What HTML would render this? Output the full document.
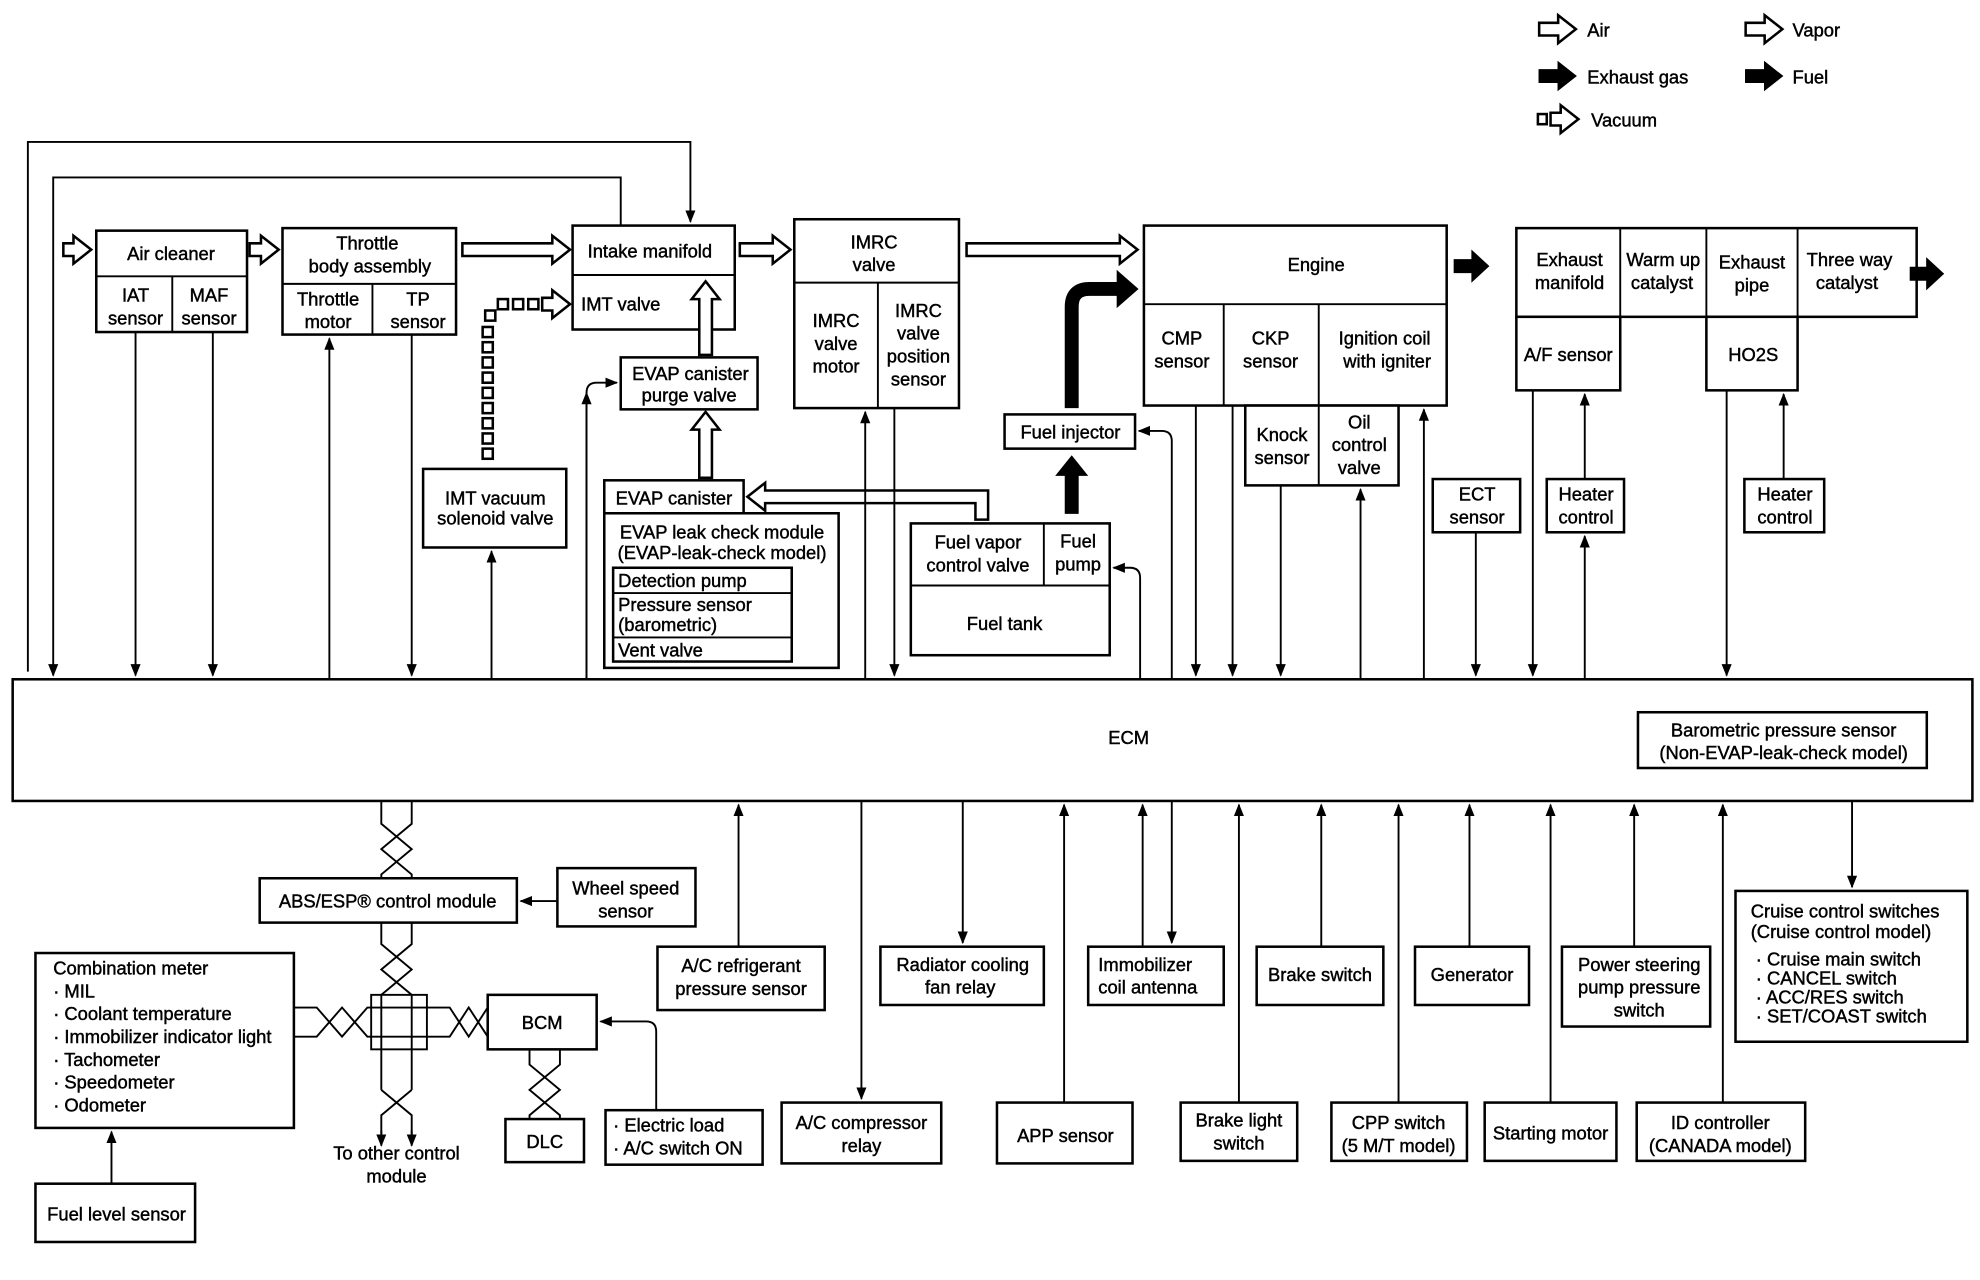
<!DOCTYPE html>
<html><head><meta charset="utf-8"><style>
html,body{margin:0;padding:0;background:#fff}
svg{display:block}
text{font-family:"Liberation Sans",sans-serif;font-size:14.5px;fill:#000;stroke:#000;stroke-width:0.35;text-anchor:middle}
.b{fill:#fff;stroke:#000;stroke-width:2}
.l{fill:none;stroke:#000;stroke-width:1.5}
.h{fill:#fff;stroke:#000;stroke-width:2;stroke-linejoin:miter}
.s{fill:#000;stroke:#000;stroke-width:1}
.st{text-anchor:start}
</style></head><body>
<svg width="1980" height="1280" viewBox="0 0 1563 1010" preserveAspectRatio="none" xmlns="http://www.w3.org/2000/svg">
<defs>
<marker id="a" markerWidth="10" markerHeight="10" refX="9" refY="4" orient="auto" markerUnits="userSpaceOnUse"><path d="M0,0 L10,4 L0,8 z" fill="#000"/></marker>
</defs>

<!-- Legend -->
<polygon class="h" points="1215,18 1230,18 1230,12 1244,23 1230,34 1230,28 1215,28"/>
<text class="st" x="1253" y="29">Air</text>
<polygon class="h" points="1378,18 1393,18 1393,12 1407,23 1393,34 1393,28 1378,28"/>
<text class="st" x="1415" y="29">Vapor</text>
<polygon class="s" points="1215,55 1230,55 1230,49 1244,60 1230,71 1230,65 1215,65"/>
<text class="st" x="1253" y="66">Exhaust gas</text>
<polygon class="s" points="1378,55 1393,55 1393,49 1407,60 1393,71 1393,65 1378,65"/>
<text class="st" x="1415" y="66">Fuel</text>
<rect class="h" x="1214" y="90" width="7" height="8"/>
<polygon class="h" points="1224,89 1232,89 1232,83 1246,94 1232,105 1232,99 1224,99"/>
<text class="st" x="1256" y="100">Vacuum</text>

<!-- top loops -->
<polyline class="l" points="22,530 22,112 545,112 545,175" marker-end="url(#a)"/>
<polyline class="l" points="490,178 490,140 42,140 42,533" marker-end="url(#a)"/>

<!-- Air cleaner -->
<rect class="b" x="76" y="182" width="119" height="80"/>
<line class="l" x1="76" y1="218" x2="195" y2="218"/><line class="l" x1="136" y1="218" x2="136" y2="262"/>
<text x="135" y="205">Air cleaner</text>
<text x="107" y="238">IAT</text><text x="107" y="256">sensor</text>
<text x="165" y="238">MAF</text><text x="165" y="256">sensor</text>

<!-- Throttle -->
<rect class="b" x="223" y="180" width="137" height="84"/>
<line class="l" x1="223" y1="224" x2="360" y2="224"/><line class="l" x1="294" y1="224" x2="294" y2="264"/>
<text x="290" y="197">Throttle</text><text x="292" y="215">body assembly</text>
<text x="259" y="241">Throttle</text><text x="259" y="259">motor</text>
<text x="330" y="241">TP</text><text x="330" y="259">sensor</text>

<!-- Intake manifold -->
<rect class="b" x="452" y="178" width="128" height="82"/>
<line class="l" x1="452" y1="217" x2="580" y2="217"/>
<text x="513" y="203">Intake manifold</text>
<text x="490" y="245">IMT valve</text>

<!-- IMRC -->
<rect class="b" x="627" y="173" width="130" height="149"/>
<line class="l" x1="627" y1="223" x2="757" y2="223"/><line class="l" x1="693" y1="223" x2="693" y2="322"/>
<text x="690" y="196">IMRC</text><text x="690" y="214">valve</text>
<text x="660" y="258">IMRC</text><text x="660" y="276">valve</text><text x="660" y="294">motor</text>
<text x="725" y="250">IMRC</text><text x="725" y="268">valve</text><text x="725" y="286">position</text><text x="725" y="304">sensor</text>

<!-- Engine -->
<rect class="b" x="903" y="178" width="239" height="142"/>
<line class="l" x1="903" y1="240" x2="1142" y2="240"/>
<line class="l" x1="966" y1="240" x2="966" y2="320"/><line class="l" x1="1041" y1="240" x2="1041" y2="320"/>
<text x="1039" y="214">Engine</text>
<text x="933" y="272">CMP</text><text x="933" y="290">sensor</text>
<text x="1003" y="272">CKP</text><text x="1003" y="290">sensor</text>
<text x="1093" y="272">Ignition coil</text><text x="1095" y="290">with igniter</text>
<rect class="b" x="983" y="320" width="121" height="63"/>
<line class="l" x1="1041" y1="320" x2="1041" y2="383"/>
<text x="1012" y="348">Knock</text><text x="1012" y="366">sensor</text>
<text x="1073" y="338">Oil</text><text x="1073" y="356">control</text><text x="1073" y="374">valve</text>

<!-- Exhaust -->
<rect class="b" x="1197" y="180" width="316" height="70"/>
<line class="l" x1="1279" y1="180" x2="1279" y2="250"/><line class="l" x1="1347" y1="180" x2="1347" y2="250"/><line class="l" x1="1419" y1="180" x2="1419" y2="250"/>
<text x="1239" y="210">Exhaust</text><text x="1239" y="228">manifold</text>
<text x="1313" y="210">Warm up</text><text x="1312" y="228">catalyst</text>
<text x="1383" y="212">Exhaust</text><text x="1383" y="230">pipe</text>
<text x="1460" y="210">Three way</text><text x="1458" y="228">catalyst</text>
<rect class="b" x="1197" y="250" width="82" height="58"/>
<text x="1238" y="285">A/F sensor</text>
<rect class="b" x="1347" y="250" width="72" height="58"/>
<text x="1384" y="285">HO2S</text>
<polygon class="s" points="1148,205 1162,205 1162,198 1175,210 1162,222 1162,215 1148,215"/>
<polygon class="s" points="1508,211 1521,211 1521,204 1534,216 1521,228 1521,221 1508,221"/>

<!-- Air arrows -->
<polygon class="h" points="50,192 58,192 58,186 72,197 58,208 58,202 50,202"/>
<polygon class="h" points="197,192 206,192 206,186 220,197 206,208 206,202 197,202"/>
<polygon class="h" points="365,192 436,192 436,186 450,197 436,208 436,202 365,202"/>
<polygon class="h" points="584,192 610,192 610,186 624,197 610,208 610,202 584,202"/>
<polygon class="h" points="763,192 884,192 884,186 898,197 884,208 884,202 763,202"/>
<polygon class="h" points="552,280 552,236 546,236 557,222 568,236 562,236 562,280"/>
<polygon class="h" points="552,377 552,339 546,339 557,325 568,339 562,339 562,377"/>
<polygon class="h" points="770,410 770,397 604,397 604,403 590,392 604,381 604,387 780,387 780,410"/>

<!-- vacuum -->
<g class="h">
<rect x="381" y="354" width="8" height="8"/><rect x="381" y="342" width="8" height="8"/><rect x="381" y="330" width="8" height="8"/><rect x="381" y="318" width="8" height="8"/><rect x="381" y="306" width="8" height="8"/><rect x="381" y="294" width="8" height="8"/><rect x="381" y="282" width="8" height="8"/><rect x="381" y="270" width="8" height="8"/><rect x="381" y="258" width="8" height="8"/><rect x="383" y="245" width="8" height="8"/>
<rect x="393" y="236" width="8" height="8"/><rect x="405" y="236" width="8" height="8"/><rect x="417" y="236" width="8" height="8"/>
</g>
<polygon class="h" points="428,235 436,235 436,229 450,240 436,251 436,245 428,245"/>

<!-- Fuel -->
<path d="M846,322 L846,242 Q846,228 860,228 L884,228" fill="none" stroke="#000" stroke-width="11"/>
<polygon class="s" points="882,214 898,228 882,242"/>
<polygon class="s" points="841,405 841,375 834,375 846,360 858,375 851,375 851,405"/>

<!-- middle boxes -->
<rect class="b" x="490" y="282" width="108" height="41"/>
<text x="545" y="300">EVAP canister</text><text x="544" y="317">purge valve</text>
<rect class="b" x="477" y="379" width="110" height="26"/>
<text x="532" y="398">EVAP canister</text>
<rect class="b" x="477" y="405" width="185" height="122"/>
<text x="570" y="425">EVAP leak check module</text><text x="570" y="441">(EVAP-leak-check model)</text>
<rect class="b" x="484" y="448" width="141" height="74"/>
<line class="l" x1="484" y1="468" x2="625" y2="468"/><line class="l" x1="484" y1="503" x2="625" y2="503"/>
<text class="st" x="488" y="463">Detection pump</text>
<text class="st" x="488" y="482">Pressure sensor</text><text class="st" x="488" y="498">(barometric)</text>
<text class="st" x="488" y="518">Vent valve</text>

<rect class="b" x="719" y="413" width="157" height="104"/>
<line class="l" x1="719" y1="462" x2="876" y2="462"/><line class="l" x1="824" y1="413" x2="824" y2="462"/>
<text x="772" y="433">Fuel vapor</text><text x="772" y="451">control valve</text>
<text x="851" y="432">Fuel</text><text x="851" y="450">pump</text>
<text x="793" y="497">Fuel tank</text>

<rect class="b" x="793" y="327" width="103" height="27"/>
<text x="845" y="346">Fuel injector</text>

<rect class="b" x="334" y="370" width="113" height="62"/>
<text x="391" y="398">IMT vacuum</text><text x="391" y="414">solenoid valve</text>

<rect class="b" x="1131" y="378" width="69" height="42"/>
<text x="1166" y="395">ECT</text><text x="1166" y="413">sensor</text>
<rect class="b" x="1221" y="378" width="61" height="42"/>
<text x="1252" y="395">Heater</text><text x="1252" y="413">control</text>
<rect class="b" x="1377" y="378" width="63" height="42"/>
<text x="1409" y="395">Heater</text><text x="1409" y="413">control</text>

<!-- ECM -->
<rect class="b" x="10" y="536" width="1547" height="96"/>
<text x="891" y="587">ECM</text>
<rect class="b" x="1293" y="562" width="228" height="44"/>
<text x="1408" y="581">Barometric pressure sensor</text><text x="1408" y="599">(Non-EVAP-leak-check model)</text>

<!-- upper connectors -->
<line class="l" x1="107" y1="262" x2="107" y2="533" marker-end="url(#a)"/>
<line class="l" x1="168" y1="262" x2="168" y2="533" marker-end="url(#a)"/>
<line class="l" x1="260" y1="536" x2="260" y2="267" marker-end="url(#a)"/>
<line class="l" x1="325" y1="264" x2="325" y2="533" marker-end="url(#a)"/>
<line class="l" x1="388" y1="536" x2="388" y2="435" marker-end="url(#a)"/>
<polyline class="l" points="463,536 463,310 Q463,302 471,302 L487,302" marker-end="url(#a)"/>
<path class="l" d="M463,536 L463,310 Q463,302 471,302 L487,302" marker-end="url(#a)"/>
<line class="l" x1="683" y1="536" x2="683" y2="325" marker-end="url(#a)"/>
<line class="l" x1="706" y1="322" x2="706" y2="533" marker-end="url(#a)"/>
<path class="l" d="M925,536 L925,348 Q925,340 917,340 L899,340" marker-end="url(#a)"/>
<path class="l" d="M900,536 L900,456 Q900,448 892,448 L879,448" marker-end="url(#a)"/>
<line class="l" x1="944" y1="320" x2="944" y2="533" marker-end="url(#a)"/>
<line class="l" x1="973" y1="320" x2="973" y2="533" marker-end="url(#a)"/>
<line class="l" x1="1011" y1="383" x2="1011" y2="533" marker-end="url(#a)"/>
<line class="l" x1="1074" y1="536" x2="1074" y2="386" marker-end="url(#a)"/>
<line class="l" x1="1124" y1="536" x2="1124" y2="323" marker-end="url(#a)"/>
<line class="l" x1="1165" y1="420" x2="1165" y2="533" marker-end="url(#a)"/>
<line class="l" x1="1210" y1="308" x2="1210" y2="533" marker-end="url(#a)"/>
<line class="l" x1="1251" y1="536" x2="1251" y2="423" marker-end="url(#a)"/>
<line class="l" x1="1251" y1="378" x2="1251" y2="311" marker-end="url(#a)"/>
<line class="l" x1="1363" y1="308" x2="1363" y2="533" marker-end="url(#a)"/>
<line class="l" x1="1408" y1="378" x2="1408" y2="311" marker-end="url(#a)"/>

<!-- lower boxes -->
<rect class="b" x="205" y="693" width="203" height="35"/>
<text x="306" y="716">ABS/ESP® control module</text>
<rect class="b" x="440" y="685" width="109" height="46"/>
<text x="494" y="706">Wheel speed</text><text x="494" y="724">sensor</text>
<line class="l" x1="440" y1="711" x2="411" y2="711" marker-end="url(#a)"/>

<rect class="b" x="28" y="752" width="204" height="138"/>
<g class="st">
<text class="st" x="42" y="769">Combination meter</text>
<text class="st" x="42" y="787">· MIL</text>
<text class="st" x="42" y="805">· Coolant temperature</text>
<text class="st" x="42" y="823">· Immobilizer indicator light</text>
<text class="st" x="42" y="841">· Tachometer</text>
<text class="st" x="42" y="859">· Speedometer</text>
<text class="st" x="42" y="877">· Odometer</text>
</g>
<rect class="b" x="28" y="934" width="126" height="46"/>
<text x="92" y="963">Fuel level sensor</text>
<line class="l" x1="88" y1="934" x2="88" y2="893" marker-end="url(#a)"/>

<rect class="b" x="385" y="785" width="86" height="43"/>
<text x="428" y="812">BCM</text>
<rect class="b" x="399" y="883" width="62" height="34"/>
<text x="430" y="906">DLC</text>
<rect class="b" x="478" y="876" width="124" height="43"/>
<text class="st" x="484" y="893">· Electric load</text><text class="st" x="484" y="911">· A/C switch ON</text>
<path class="l" d="M518,876 L518,814 Q518,806 510,806 L474,806" marker-end="url(#a)"/>

<!-- twisted pairs -->
<g class="l" stroke-width="1.6">
<path d="M301,632 L301,650 L325,670 L301,690 L301,693 M325,632 L325,650 L301,670 L325,690 L325,693"/>
<path d="M301,728 L301,745 L325,765 L301,785 L301,860 M325,728 L325,745 L301,765 L325,785 L325,860"/>
<path d="M301,860 L325,880 L325,895 M325,860 L301,880 L301,895"/>
<path d="M232,795 L250,795 L270,818 L290,795 L337,795 L355,795 L370,818 L385,795 M232,818 L250,818 L270,795 L290,818 L337,818 L355,818 L370,795 L385,818"/>
<rect x="293" y="785" width="44" height="43"/>
<path d="M418,828 L418,840 L442,860 L418,880 L418,883 M442,828 L442,840 L418,860 L442,880 L442,883"/>
</g>
<line class="l" x1="301" y1="892" x2="301" y2="904" marker-end="url(#a)"/>
<line class="l" x1="325" y1="892" x2="325" y2="904" marker-end="url(#a)"/>
<text x="313" y="915">To other control</text><text x="313" y="933">module</text>

<rect class="b" x="519" y="747" width="132" height="50"/>
<text x="585" y="767">A/C refrigerant</text><text x="585" y="785">pressure sensor</text>
<line class="l" x1="583" y1="747" x2="583" y2="635" marker-end="url(#a)"/>
<rect class="b" x="617" y="870" width="126" height="48"/>
<text x="680" y="891">A/C compressor</text><text x="680" y="909">relay</text>
<line class="l" x1="680" y1="632" x2="680" y2="867" marker-end="url(#a)"/>
<rect class="b" x="695" y="747" width="129" height="46"/>
<text x="760" y="766">Radiator cooling</text><text x="758" y="784">fan relay</text>
<line class="l" x1="760" y1="632" x2="760" y2="744" marker-end="url(#a)"/>
<rect class="b" x="787" y="870" width="107" height="48"/>
<text x="841" y="901">APP sensor</text>
<line class="l" x1="840" y1="870" x2="840" y2="635" marker-end="url(#a)"/>
<rect class="b" x="859" y="747" width="107" height="46"/>
<text class="st" x="867" y="766">Immobilizer</text><text class="st" x="867" y="784">coil antenna</text>
<line class="l" x1="902" y1="747" x2="902" y2="635" marker-end="url(#a)"/>
<line class="l" x1="925" y1="632" x2="925" y2="744" marker-end="url(#a)"/>
<rect class="b" x="932" y="870" width="92" height="46"/>
<text x="978" y="889">Brake light</text><text x="978" y="907">switch</text>
<line class="l" x1="978" y1="870" x2="978" y2="635" marker-end="url(#a)"/>
<rect class="b" x="992" y="747" width="100" height="46"/>
<text x="1042" y="774">Brake switch</text>
<line class="l" x1="1043" y1="747" x2="1043" y2="635" marker-end="url(#a)"/>
<rect class="b" x="1051" y="870" width="107" height="46"/>
<text x="1104" y="891">CPP switch</text><text x="1104" y="909">(5 M/T model)</text>
<line class="l" x1="1104" y1="870" x2="1104" y2="635" marker-end="url(#a)"/>
<rect class="b" x="1117" y="747" width="90" height="46"/>
<text x="1162" y="774">Generator</text>
<line class="l" x1="1160" y1="747" x2="1160" y2="635" marker-end="url(#a)"/>
<rect class="b" x="1172" y="870" width="104" height="46"/>
<text x="1224" y="899">Starting motor</text>
<line class="l" x1="1224" y1="870" x2="1224" y2="635" marker-end="url(#a)"/>
<rect class="b" x="1233" y="747" width="117" height="63"/>
<text x="1294" y="766">Power steering</text><text x="1294" y="784">pump pressure</text><text x="1294" y="802">switch</text>
<line class="l" x1="1290" y1="747" x2="1290" y2="635" marker-end="url(#a)"/>
<rect class="b" x="1292" y="870" width="133" height="46"/>
<text x="1358" y="891">ID controller</text><text x="1358" y="909">(CANADA model)</text>
<line class="l" x1="1360" y1="870" x2="1360" y2="635" marker-end="url(#a)"/>
<rect class="b" x="1370" y="703" width="183" height="119"/>
<text class="st" x="1382" y="724">Cruise control switches</text>
<text class="st" x="1382" y="740">(Cruise control model)</text>
<text class="st" x="1386" y="762">· Cruise main switch</text>
<text class="st" x="1386" y="777">· CANCEL switch</text>
<text class="st" x="1386" y="792">· ACC/RES switch</text>
<text class="st" x="1386" y="807">· SET/COAST switch</text>
<line class="l" x1="1462" y1="632" x2="1462" y2="700" marker-end="url(#a)"/>
</svg>
</body></html>
